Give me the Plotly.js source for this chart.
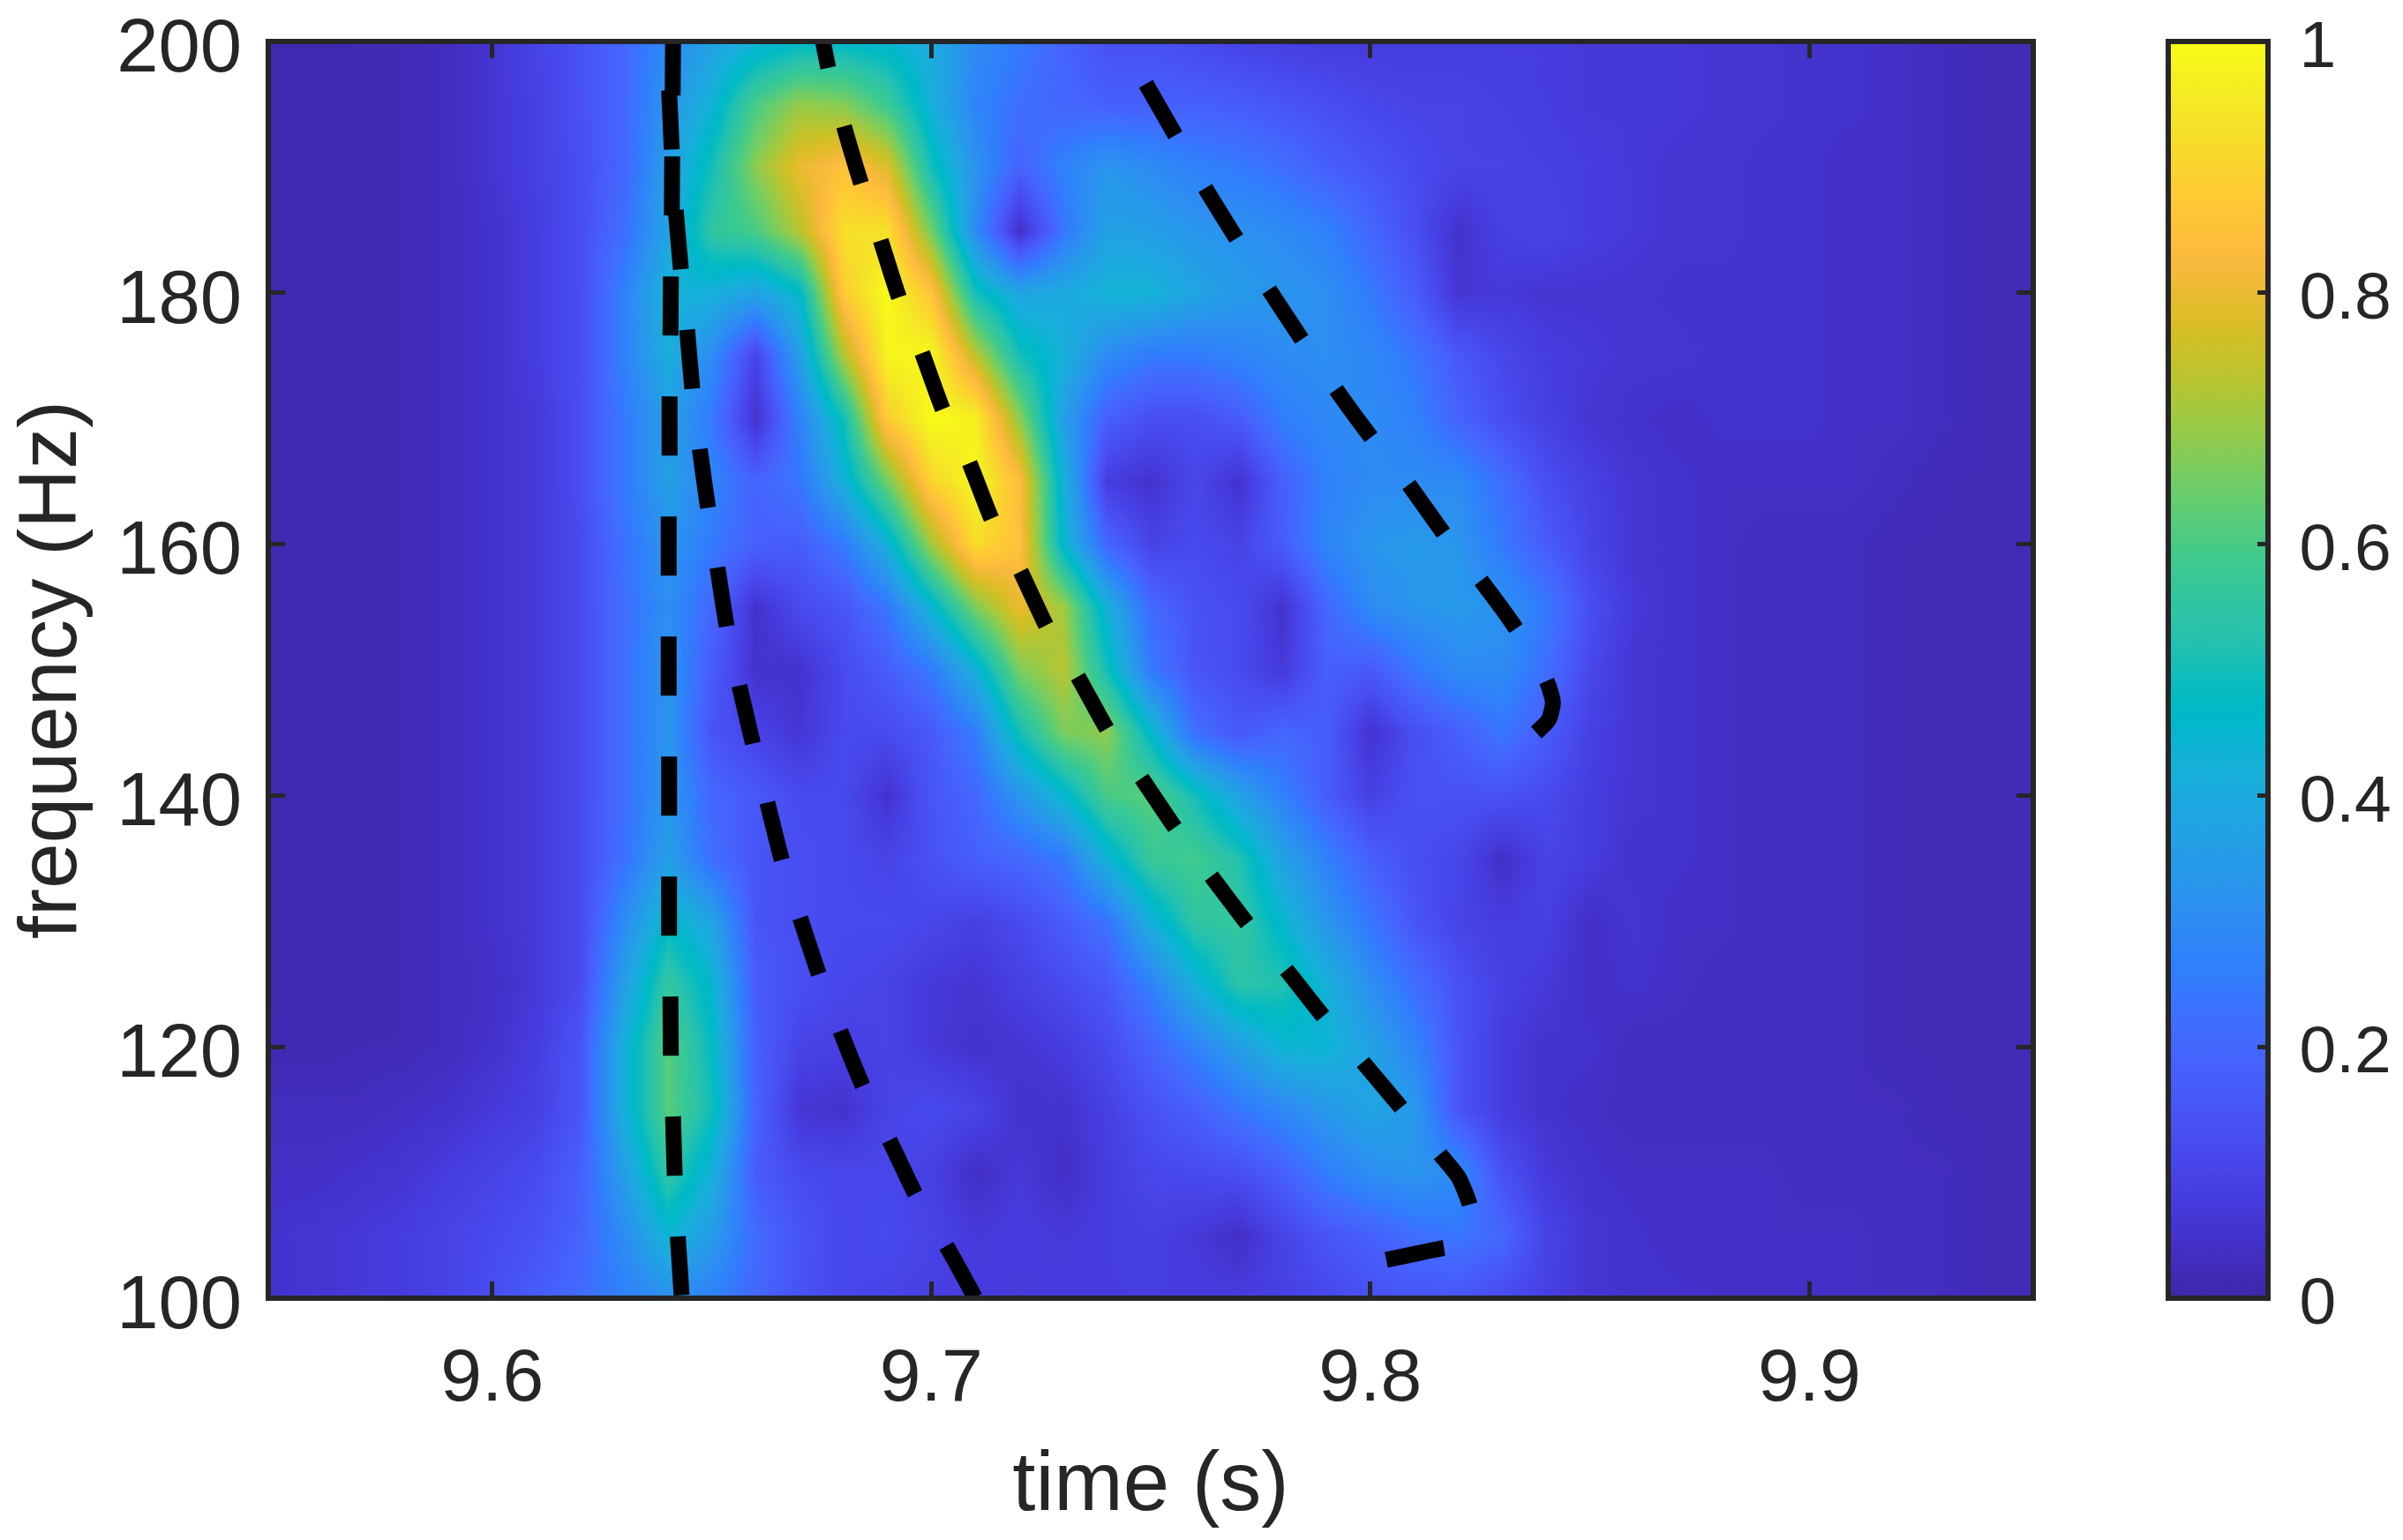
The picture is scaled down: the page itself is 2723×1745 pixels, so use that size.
<!DOCTYPE html>
<html>
<head>
<meta charset="utf-8">
<script src="https://cdn.plot.ly/plotly-3.0.1.min.js"></script>
<style>html,body{margin:0;padding:0;background:#fff}#chart{width:2723px;height:1745px}</style>
</head>
<body>
<div id="chart"></div>
<script>
const times = [9.549,9.56,9.57,9.58,9.59,9.60,9.61,9.62,9.63,9.64,9.65,9.66,9.67,9.68,9.69,9.70,9.71,9.72,9.73,9.74,9.75,9.76,9.77,9.78,9.79,9.80,9.81,9.82,9.83,9.84,9.85,9.86,9.87,9.88,9.89,9.90,9.91,9.92,9.93,9.94,9.951];
const freqs = [100,105,110,115,120,125,130,135,140,145,150,155,160,165,170,175,180,185,190,195,199.85];

const z200 = [.01,.01,.015,.02,.03,.06,.10,.14,.20,.30,.37,.43,.47,.47,.45,.40,.30,.25,.19,.14,.14,.12,.10,.09,.08,.08,.08,.08,.08,.08,.07,.07,.07,.06,.06,.05,.05,.04,.03,.02,.02];
const z195 = [.01,.01,.015,.02,.03,.06,.09,.14,.20,.33,.43,.60,.69,.67,.58,.42,.28,.22,.20,.18,.18,.18,.17,.15,.13,.11,.10,.10,.09,.08,.07,.07,.07,.06,.06,.05,.05,.04,.03,.02,.02];
const z190 = [.01,.01,.015,.02,.03,.06,.09,.13,.20,.36,.50,.68,.80,.85,.78,.50,.32,.19,.27,.33,.30,.27,.25,.22,.18,.15,.12,.10,.10,.09,.08,.07,.06,.06,.05,.05,.04,.04,.03,.02,.02];
const z185 = [.01,.01,.015,.02,.03,.05,.08,.13,.22,.38,.55,.60,.73,.93,.93,.65,.30,.04,.24,.37,.36,.33,.32,.30,.27,.20,.13,.05,.09,.10,.08,.07,.06,.06,.05,.05,.04,.04,.03,.02,.02];
const z180 = [.01,.01,.015,.02,.03,.05,.08,.13,.27,.43,.42,.37,.46,.88,1.0,.86,.50,.38,.40,.43,.43,.38,.34,.33,.31,.25,.17,.06,.07,.06,.06,.06,.05,.05,.05,.05,.04,.04,.03,.02,.02];
const z175 = [.01,.01,.015,.02,.03,.05,.08,.13,.27,.41,.30,.10,.36,.72,.98,.99,.74,.50,.42,.30,.25,.25,.28,.30,.31,.29,.24,.16,.11,.08,.07,.06,.06,.05,.05,.05,.04,.04,.03,.02,.02];
const z170 = [.01,.01,.015,.02,.03,.05,.07,.13,.25,.36,.25,.05,.27,.50,.88,1.0,.97,.68,.36,.18,.13,.13,.17,.26,.29,.30,.27,.19,.13,.09,.06,.05,.04,.05,.05,.05,.04,.04,.03,.02,.02];
const z165 = [.01,.01,.015,.02,.03,.05,.07,.13,.25,.36,.28,.19,.24,.42,.65,.90,.99,.84,.42,.08,.05,.11,.05,.18,.27,.30,.30,.30,.22,.13,.09,.06,.05,.04,.04,.04,.04,.03,.02,.02,.02];
const z160 = [.01,.01,.015,.02,.03,.05,.07,.12,.23,.33,.25,.18,.17,.25,.42,.70,.92,.85,.45,.20,.10,.12,.10,.17,.28,.33,.34,.33,.25,.17,.10,.06,.05,.04,.03,.03,.03,.02,.02,.02,.02];
const z155 = [.01,.01,.015,.02,.03,.05,.07,.12,.22,.31,.20,.05,.12,.15,.24,.44,.66,.80,.70,.42,.21,.14,.12,.05,.20,.30,.33,.34,.32,.25,.13,.07,.05,.04,.03,.03,.03,.02,.02,.02,.02];
const z150 = [.01,.01,.015,.02,.03,.05,.07,.12,.22,.33,.17,.05,.05,.12,.17,.25,.42,.66,.73,.50,.25,.15,.12,.07,.18,.16,.24,.30,.30,.22,.11,.06,.05,.04,.03,.03,.03,.02,.02,.02,.02];
const z145 = [.01,.01,.015,.02,.03,.05,.07,.12,.22,.33,.15,.10,.06,.12,.12,.16,.26,.50,.66,.68,.46,.22,.16,.20,.17,.05,.13,.18,.24,.17,.09,.06,.05,.04,.03,.03,.03,.02,.02,.02,.02];
const z140 = [.01,.01,.015,.02,.03,.05,.07,.12,.22,.34,.20,.16,.12,.12,.05,.15,.20,.33,.45,.60,.62,.50,.37,.27,.17,.09,.14,.14,.14,.12,.08,.06,.05,.04,.03,.03,.03,.02,.02,.02,.02];
const z135 = [.01,.01,.015,.02,.03,.05,.07,.12,.23,.36,.22,.15,.13,.12,.10,.14,.18,.20,.25,.43,.57,.59,.52,.37,.27,.18,.13,.11,.04,.10,.08,.05,.05,.04,.03,.03,.03,.02,.02,.02,.02];
const z130 = [.01,.01,.015,.02,.03,.05,.07,.12,.30,.47,.38,.15,.13,.12,.12,.11,.09,.12,.17,.23,.42,.55,.56,.45,.33,.24,.15,.10,.08,.09,.04,.06,.04,.04,.03,.03,.03,.02,.02,.02,.02];
const z125 = [.01,.01,.015,.02,.03,.04,.07,.12,.36,.56,.45,.17,.13,.11,.10,.07,.06,.09,.12,.16,.27,.42,.54,.52,.42,.31,.22,.14,.09,.07,.04,.05,.04,.03,.03,.03,.03,.02,.02,.02,.02];
const z120 = [.015,.015,.02,.02,.03,.05,.08,.15,.42,.62,.48,.18,.10,.09,.10,.07,.05,.06,.08,.12,.19,.27,.36,.44,.44,.37,.28,.15,.08,.05,.05,.03,.03,.03,.03,.03,.03,.02,.02,.02,.02];
const z115 = [.03,.03,.03,.04,.05,.07,.09,.15,.42,.62,.50,.19,.06,.05,.10,.12,.10,.05,.05,.09,.14,.18,.24,.29,.34,.38,.34,.15,.08,.05,.04,.03,.03,.03,.03,.03,.03,.03,.02,.02,.02];
const z110 = [.04,.04,.05,.06,.08,.10,.12,.18,.36,.55,.42,.17,.12,.11,.11,.09,.04,.07,.04,.08,.11,.12,.13,.18,.26,.31,.33,.30,.14,.07,.05,.04,.04,.04,.04,.03,.03,.03,.03,.02,.02];
const z105 = [.05,.06,.07,.08,.10,.12,.14,.19,.30,.44,.35,.21,.15,.11,.12,.10,.07,.08,.07,.08,.09,.07,.04,.10,.15,.18,.22,.24,.20,.10,.06,.05,.04,.04,.04,.04,.04,.03,.03,.02,.02];
const z100 = [.05,.06,.07,.08,.10,.13,.17,.21,.27,.31,.27,.20,.14,.11,.10,.09,.08,.07,.08,.08,.08,.08,.08,.09,.11,.14,.15,.15,.12,.09,.06,.05,.05,.04,.04,.04,.04,.03,.03,.02,.02];

const lineLTime = [9.6412,9.6411,9.6410,9.6409,9.6407,9.6406,9.6404,9.6404,9.6402,9.6402,9.6402,9.6402,9.6403,9.6403,9.6403,9.6403,9.6406,9.6407,9.6412,9.6416,9.6423,9.6432];
const lineLFreq = [200.42,195.58,190.66,186.10,181.11,176.54,171.70,166.85,162.08,157.30,152.53,147.82,142.98,138.20,133.43,128.58,123.88,119.10,114.35,109.48,104.78,99.93];
const lineMTime = [9.6403,9.6409,9.6418,9.6430,9.6444,9.6456,9.6473,9.6492,9.6513,9.6535,9.6563,9.6595,9.6627,9.6661,9.6702,9.6746,9.6794,9.6847,9.6905,9.6967,9.7035,9.7102];
const lineMFreq = [196.11,191.36,186.59,181.81,177.04,172.26,167.51,162.78,158.15,153.30,148.74,143.96,139.40,134.69,130.20,125.59,121.17,116.64,112.57,108.07,104.14,99.9];
const lineNTime = [9.6740,9.6766,9.6800,9.6841,9.6883,9.6928,9.6977,9.7028,9.7085,9.7140,9.7200,9.7265,9.7332,9.7405,9.7478,9.7557,9.7638,9.7722,9.7809,9.7895,9.7983,9.8074,9.8159,9.8201,9.8227,9.8231,9.8195,9.8167,9.8032];
const lineNFreq = [202.53,197.82,193.40,188.62,184.37,179.49,175.42,170.58,166.64,161.80,158.08,153.30,149.58,145.01,141.43,137.36,133.57,129.71,126.12,122.33,118.79,115.0,111.45,109.62,107.37,105.34,104.14,104.0,103.02];
const lineRTime = [9.7489,9.7558,9.7624,9.7696,9.7769,9.7846,9.7923,9.8004,9.8086,9.8169,9.8251,9.8333,9.8402,9.8416,9.8406,9.8378];
const lineRFreq = [196.63,192.42,188.34,184.27,180.27,176.19,172.26,168.40,164.82,160.77,157.16,153.23,149.09,147.40,146.0,145.01];

const xTicks = [9.6,9.7,9.8,9.9];
const xTickLabels = ['9.6','9.7','9.8','9.9'];
const yTicks = [100,120,140,160,180,200];
const yTickLabels = ['100','120','140','160','180','200'];
const cbTicks = [0,0.2,0.4,0.6,0.8,1];
const cbTickLabels = ['0','0.2','0.4','0.6','0.8','1'];

const parula = [[.2422,.1504,.6603],[.2504,.1650,.7076],[.2578,.1818,.7511],[.2647,.1978,.7952],[.2706,.2147,.8364],[.2751,.2342,.8710],[.2783,.2559,.8991],[.2803,.2782,.9221],[.2813,.3006,.9414],[.2810,.3228,.9579],[.2795,.3447,.9717],[.2760,.3667,.9829],[.2699,.3892,.9906],[.2602,.4123,.9952],[.2440,.4358,.9988],[.2206,.4603,.9973],[.1963,.4847,.9892],[.1834,.5074,.9798],[.1786,.5289,.9682],[.1764,.5499,.9520],[.1687,.5703,.9359],[.1540,.5902,.9218],[.1460,.6091,.9079],[.1380,.6276,.8973],[.1248,.6459,.8883],[.1113,.6635,.8763],[.0952,.6798,.8598],[.0689,.6948,.8394],[.0297,.7082,.8163],[.0036,.7203,.7917],[.0067,.7312,.7660],[.0433,.7411,.7394],[.0964,.7500,.7120],[.1408,.7584,.6842],[.1717,.7670,.6554],[.1938,.7758,.6251],[.2161,.7843,.5923],[.2470,.7918,.5567],[.2906,.7973,.5188],[.3406,.8008,.4789],[.3909,.8029,.4354],[.4456,.8024,.3909],[.5044,.7993,.3480],[.5616,.7942,.3045],[.6174,.7876,.2612],[.6720,.7793,.2227],[.7242,.7698,.1910],[.7738,.7598,.1646],[.8203,.7498,.1535],[.8634,.7406,.1596],[.9035,.7330,.1774],[.9393,.7288,.2100],[.9728,.7298,.2394],[.9956,.7434,.2371],[.9970,.7659,.2199],[.9952,.7893,.2028],[.9892,.8136,.1885],[.9786,.8386,.1766],[.9676,.8639,.1643],[.9610,.8890,.1537],[.9597,.9135,.1423],[.9628,.9373,.1265],[.9691,.9606,.1064],[.9769,.9839,.0805]];
const colorscale = parula.map((c,i)=>[i/(parula.length-1),`rgb(${Math.round(c[0]*255)},${Math.round(c[1]*255)},${Math.round(c[2]*255)})`]);

const ink = '#262626';
const font = 'Liberation Sans, Helvetica, Arial, sans-serif';
const dashed = {color:'#000',width:18,dash:'67px,69px',shape:'spline',smoothing:0.6};
function curve(x,y){return {type:'scatter',mode:'lines',x,y,line:dashed,hoverinfo:'skip',showlegend:false};}

const traces = [
  {type:'heatmap',x:times,y:freqs,
   z:[z100,z105,z110,z115,z120,z125,z130,z135,z140,z145,z150,z155,z160,z165,z170,z175,z180,z185,z190,z195,z200],
   zmin:0,zmax:1,zsmooth:'best',colorscale,hoverinfo:'skip',
   colorbar:{x:1.0765,xanchor:'left',xpad:0,y:0,yanchor:'bottom',ypad:0,len:1,lenmode:'fraction',thickness:113,thicknessmode:'pixels',
     outlinewidth:6,outlinecolor:ink,ticks:'inside',ticklen:15,tickwidth:5,tickcolor:ink,
     tickmode:'array',tickvals:cbTicks,ticktext:cbTickLabels,tickfont:{family:font,size:75,color:ink},ticklabelposition:'outside'}},
  curve(lineLTime,lineLFreq),
  curve(lineMTime,lineMFreq),
  curve(lineNTime,lineNFreq),
  curve(lineRTime,lineRFreq)
];

const layout = {
  width:2723,height:1745,paper_bgcolor:'#fff',plot_bgcolor:'#fff',showlegend:false,
  margin:{l:304,r:419,t:47,b:274,pad:0,autoexpand:false},
  font:{family:font,color:ink},
  shapes:[{type:'rect',xref:'paper',yref:'paper',x0:0,x1:1,y0:0,y1:1,layer:'above',line:{color:ink,width:6},fillcolor:'rgba(0,0,0,0)'}],
  xaxis:{range:[9.549,9.951],tickmode:'array',tickvals:xTicks,ticktext:xTickLabels,ticks:'inside',ticklen:19,tickwidth:5,tickcolor:ink,
    showline:true,linewidth:1,linecolor:ink,mirror:'ticks',showgrid:false,zeroline:false,
    tickfont:{family:font,size:84,color:ink},ticklabelstandoff:14,ticklabeloverflow:'allow',
    title:{text:'time (s)',font:{family:font,size:94,color:ink},standoff:41}},
  yaxis:{range:[100,200],tickmode:'array',tickvals:yTicks,ticktext:yTickLabels,ticks:'inside',ticklen:19,tickwidth:5,tickcolor:ink,
    showline:true,linewidth:1,linecolor:ink,mirror:'ticks',showgrid:false,zeroline:false,
    tickfont:{family:font,size:85,color:ink},ticklabelstandoff:12,ticklabeloverflow:'allow',
    title:{text:'frequency (Hz)',font:{family:font,size:93,color:ink},standoff:14}}
};
Plotly.newPlot('chart',traces,layout,{displayModeBar:false,staticPlot:true}).then(()=>{
  document.querySelectorAll('.cbaxis text, .colorbar .ytick text').forEach(t=>{t.setAttribute('dx','17');t.setAttribute('dy','3');});
  document.querySelectorAll('.yaxislayer-above .ytick text').forEach(t=>{t.setAttribute('dy','4');});
});
</script>
</body>
</html>
